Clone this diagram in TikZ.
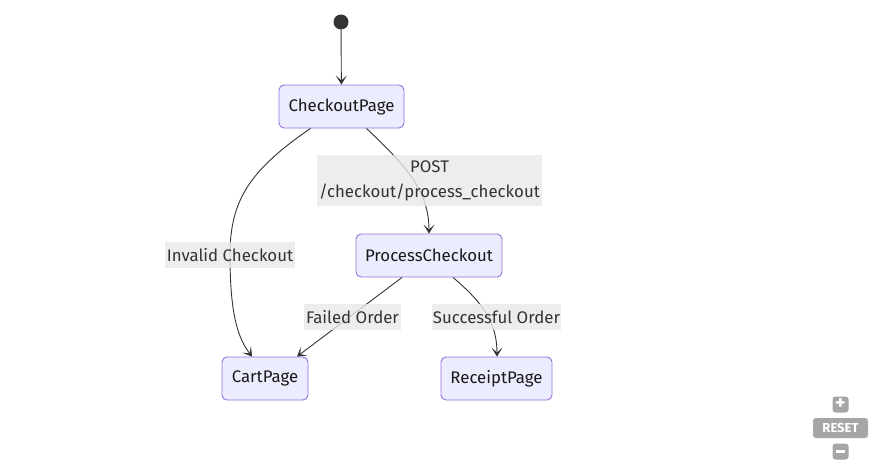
\documentclass[tikz,border=0pt]{standalone}
\usepackage{fontspec}
\setmainfont{Fira Sans}
\usetikzlibrary{arrows.meta, positioning}
\definecolor{statefill}{HTML}{ECECFF}
\definecolor{stateline}{HTML}{9370DB}
\definecolor{ink}{HTML}{333333}
\definecolor{lblbg}{HTML}{E8E8E8}
\definecolor{uigrey}{HTML}{A6A6A6}
\tikzset{
    state/.style={rectangle, rounded corners=5pt, draw=stateline, line width=0.9pt, fill=statefill, minimum height=43pt, inner sep=0pt, align=center, font=\fontsize{16.8}{18}\selectfont, text=black!90},
    lbl/.style={rectangle, fill=lblbg, fill opacity=0.8, text opacity=1, text=ink, inner sep=0pt, minimum height=26pt, align=center, font=\fontsize{16.8}{25}\selectfont},
    arr/.style={-{Stealth[length=9pt, width=11pt, inset=5pt]}, line width=0.9pt, ink},
    uibtn/.style={rectangle, rounded corners=3pt, fill=uigrey, text=white, inner sep=0pt, font=\fontsize{13}{13}\selectfont\bfseries}
}
\begin{document}
\begin{tikzpicture}[x=1pt, y=-1pt]
    \useasboundingbox (0,0) rectangle (879,469);

    \node[circle, fill=ink, minimum size=15pt, inner sep=0pt] (start) at (341,22) {};
    \node[state, minimum width=125pt] (checkout) at (341.5,106.5) {CheckoutPage};
    \node[state, minimum width=146pt] (process) at (429,255.5) {ProcessCheckout};
    \node[state, minimum width=86pt] (cart) at (265,378.5) {CartPage};
    \node[state, minimum width=111pt] (receipt) at (496.5,378.5) {ReceiptPage};

    \draw[arr] (start)--(checkout);
    \draw[arr] ([xshift=-31pt]checkout.south) .. controls (250,170) and (230,200) .. (230,255)
        .. controls (230,315) and (238,338) .. ([xshift=-13pt]cart.north);
    \draw[arr] ([xshift=25pt]checkout.south) .. controls (405,165) and (429,190) .. (process.north);
    \draw[arr] ([xshift=-27pt]process.south)--([xshift=32pt]cart.north);
    \draw[arr] ([xshift=24pt]process.south) .. controls (482,302) and (497,322) .. ([xshift=0.5pt]receipt.north);

    \node[lbl, minimum width=130pt] (invalid) at (230,255) {Invalid Checkout};
    \node[lbl, minimum width=225pt, minimum height=51pt] (post) at (429.5,180.5) {POST\\/checkout/process\_checkout};
    \node[lbl, minimum width=97pt] (failed) at (352.5,317) {Failed Order};
    \node[lbl, minimum width=129pt] (success) at (496.5,317) {Successful Order};

    % zoom controls
    \node[uibtn, minimum width=16pt, minimum height=16pt, font=\fontsize{20}{20}\selectfont\bfseries] (zoomin) at (840.5,404.5) {+};
    \node[uibtn, minimum width=55pt, minimum height=20pt] (reset) at (840.5,428) {RESET};
    \node[uibtn, minimum width=16pt, minimum height=16pt] (zoomout) at (840.5,451.5) {\rule{9pt}{2.5pt}};
\end{tikzpicture}
\end{document}
